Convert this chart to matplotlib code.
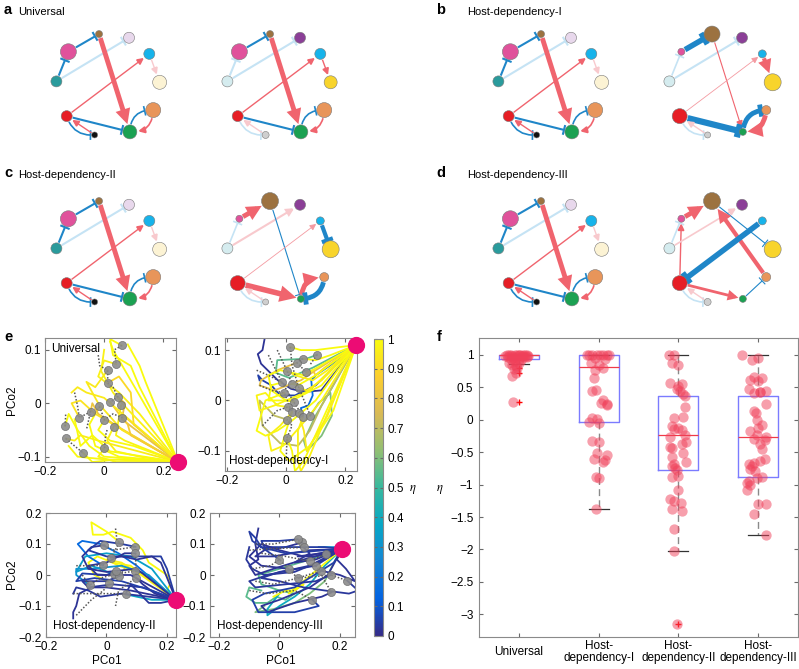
import numpy as np
import matplotlib
matplotlib.use("Agg")
import matplotlib.pyplot as plt
from matplotlib.patches import Circle, FancyArrowPatch
from matplotlib.colors import LinearSegmentedColormap
from matplotlib.transforms import blended_transform_factory
import matplotlib.cm as cm

plt.rcParams['font.family'] = ['Liberation Sans', 'DejaVu Sans']
plt.rcParams['mathtext.fontset'] = 'stix'
plt.rcParams['axes.edgecolor'] = '#8a8a8a'
plt.rcParams['xtick.color'] = '#6a6a6a'
plt.rcParams['ytick.color'] = '#6a6a6a'
plt.rcParams['xtick.labelcolor'] = 'black'
plt.rcParams['ytick.labelcolor'] = 'black'

W, H = 799, 669
fig = plt.figure(figsize=(W / 100, H / 100), dpi=100)

def ax_px(l, t, w, h):
    return fig.add_axes([l / W, 1 - (t + h) / H, w / W, h / H])

def ftext(x, y, s, **kw):
    fig.text(x / W, 1 - y / H, s, **kw)

# ---------------------------------------------------------------- networks
# node order: brown, purple, cyan, yellow, orange, green, black, red, teal, pink
node_full = ['#9c7240', '#8b3f97', '#17b3ea', '#f8d42c', '#e8955a',
             '#1ba152', '#111111', '#e61e25', '#2a9b9c', '#e0529b']
node_faded = ['#dccbb5', '#e8d8ec', '#bfe8f8', '#fcf3d4', '#f6dcc8',
              '#c2e6d0', '#cfcfcf', '#f7c0c2', '#d5ecef', '#f4cde0']
node_angle = [100, 66, 37, 3, -29, -65, -105, -143, 176, 140]

# reference (left) network, same in a-d
ref_sizes = [3.5, 5.5, 5.5, 7, 7.5, 7, 3, 5.5, 5.5, 8]
ref_faded = [0, 1, 0, 1, 0, 0, 0, 0, 0, 0]
# (src, dst, kind, width, fade level, curvature)
ref_edges = [(9, 0, 'i', 1.5, 0, 0), (8, 9, 'i', 1.5, 0, 0), (8, 1, 'i', 1.5, 1, 0),
             (0, 5, 'a', 3.5, 0, 0), (7, 2, 'a', 1.0, 0, 0), (2, 3, 'a', 1.0, 1, 0),
             (7, 5, 'i', 1.5, 0, 0), (5, 4, 'i', 1.2, 0, -0.5), (4, 5, 'a', 1.2, 0, -0.5),
             (7, 6, 'i', 1.2, 0, 0.4), (6, 7, 'a', 1.0, 0, 0)]

a_sizes = [3.5, 5.5, 5.5, 6.5, 7.5, 7, 3.5, 5.5, 5.5, 8]
a_faded = [0, 0, 0, 0, 0, 0, 1, 0, 1, 0]
a_edges = [(9, 0, 'i', 1.5, 0, 0), (8, 9, 'i', 1.5, 1, 0), (8, 1, 'i', 1.5, 1, 0),
           (0, 5, 'a', 3.5, 0, 0), (7, 2, 'a', 1.0, 0, 0), (2, 3, 'a', 1.0, 0, 0),
           (7, 5, 'i', 1.5, 0, 0), (5, 4, 'i', 1.2, 0, -0.5), (4, 5, 'a', 1.2, 0, -0.5),
           (7, 6, 'i', 1.2, 1, 0.4), (6, 7, 'a', 1.0, 1, 0)]

b_sizes = [8, 5.5, 4, 8.5, 4.5, 3.5, 3, 7.5, 5.5, 3.5]
b_faded = [0, 0, 0, 0, 0, 0, 1, 0, 1, 0]
b_edges = [(9, 0, 'i', 4.0, 0, 0), (8, 9, 'i', 1.2, 1, 0), (8, 1, 'i', 1.5, 1, 0),
           (0, 5, 'a', 0.8, 0, 0), (7, 2, 'a', 0.6, 2, 0), (2, 3, 'a', 3.0, 0, 0),
           (7, 5, 'i', 4.5, 0, 0), (5, 4, 'i', 3.5, 0, -0.45), (4, 5, 'a', 3.5, 0, -0.45),
           (7, 6, 'i', 1.2, 1, 0.4), (6, 7, 'a', 1.0, 1, 0)]

c_sizes = [8.5, 5.5, 4, 8.5, 4.5, 3.5, 3, 7.5, 5.5, 3.5]
c_faded = [0, 0, 0, 0, 0, 0, 1, 0, 1, 0]
c_edges = [(9, 0, 'a', 3.5, 0, 0), (8, 9, 'i', 1.2, 1, 0), (8, 1, 'a', 1.5, 1, 0),
           (0, 5, 'i', 0.8, 0, 0), (7, 2, 'a', 0.6, 2, 0), (2, 3, 'i', 3.0, 0, 0),
           (7, 5, 'a', 4.0, 0, 0), (5, 4, 'a', 3.5, 0, -0.45), (4, 5, 'i', 3.5, 0, -0.45),
           (7, 6, 'i', 1.2, 1, 0.4), (6, 7, 'a', 1.0, 1, 0)]

d_sizes = [8.5, 5.5, 4, 8.5, 4.5, 3.5, 3.5, 7.5, 5.5, 3.5]
d_faded = [0, 0, 0, 0, 0, 0, 1, 0, 1, 0]
d_edges = [(9, 0, 'a', 3.5, 0, 0), (8, 9, 'i', 1.2, 1, 0), (7, 9, 'a', 1.0, 0, 0),
           (8, 1, 'a', 1.2, 1, 0), (0, 3, 'i', 0.8, 0, 0), (4, 0, 'a', 3.0, 0, 0),
           (2, 7, 'i', 4.0, 0, 0), (7, 5, 'a', 2.0, 0, 0), (5, 4, 'i', 0.8, 0, 0),
           (7, 6, 'i', 1.2, 1, 0.4), (6, 7, 'a', 1.0, 1, 0)]

BLUE, RED = '#1f86c8', '#f0646e'
LBLUE, LPINK, MRED = '#c5e3f4', '#f8c9cd', '#f49aa1'
PX_PER_UNIT = 150 / 2.9

def draw_network(cx, cy, sizes, faded, edges):
    ax = ax_px(cx - 75, cy - 75, 150, 150)
    ax.set_xlim(-1.45, 1.45)
    ax.set_ylim(-1.45, 1.45)
    ax.set_aspect('equal')
    ax.axis('off')
    pos = [(np.cos(np.radians(a)), np.sin(np.radians(a))) for a in node_angle]
    for s, d, kind, w, fl, rad in edges:
        if kind == 'a':
            col = [RED, LPINK, MRED][fl]
            style = "-|>,head_length=0.5,head_width=0.25"
            ms = 7 + 1.0 * w
        else:
            col = [BLUE, LBLUE, LBLUE][fl]
            style = "|-|,widthA=0,widthB=0.5"
            ms = 6 + 0.8 * w
        p = FancyArrowPatch(pos[s], pos[d], arrowstyle=style,
                            connectionstyle=f"arc3,rad={rad}",
                            shrinkA=sizes[s] / 1.389 + 0.5,
                            shrinkB=sizes[d] / 1.389 + 0.8,
                            mutation_scale=ms, lw=w, color=col,
                            capstyle='butt', joinstyle='miter', zorder=2)
        ax.add_patch(p)
    for i, (x, y) in enumerate(pos):
        col = node_faded[i] if faded[i] else node_full[i]
        ax.add_patch(Circle((x, y), sizes[i] / PX_PER_UNIT, facecolor=col,
                            edgecolor='#7a7a7a', lw=0.4, zorder=3))

for cx, cy in [(108, 85), (550, 85), (108, 252), (550, 252)]:
    draw_network(cx, cy, ref_sizes, ref_faded, ref_edges)
draw_network(279, 85, a_sizes, a_faded, a_edges)
draw_network(721, 85, b_sizes, b_faded, b_edges)
draw_network(279, 252, c_sizes, c_faded, c_edges)
draw_network(721, 252, d_sizes, d_faded, d_edges)

for lab, x, y in [('a', 4, 10), ('b', 436, 10), ('c', 4, 173), ('d', 436, 173),
                  ('e', 4, 337), ('f', 437, 337)]:
    ftext(x, y, lab, fontsize=10.5, fontweight='bold', va='center', ha='left')
for t, x, y in [('Universal', 18, 12), ('Host-dependency-I', 467, 12),
                ('Host-dependency-II', 18, 175), ('Host-dependency-III', 467, 175)]:
    ftext(x, y, t, fontsize=8, va='center', ha='left')

# ---------------------------------------------------------------- panel e
parula = LinearSegmentedColormap.from_list('parula', [
    (0.0, '#352a87'), (0.125, '#0363e1'), (0.25, '#1485d4'), (0.375, '#06a7c6'),
    (0.5, '#38b99e'), (0.625, '#92bf73'), (0.75, '#d9ba56'), (0.875, '#fcce2e'),
    (1.0, '#f9fb0e')])

# Universal
univ_end = (0.25, -0.11)
univ_start_x = [0.06, 0.041, 0.012, 0.012, 0.021, 0.046, 0.057, -0.016, -0.046, -0.084,
                0.001, 0.062, 0.032, -0.132, -0.13, -0.071, 0.001]
univ_start_y = [0.108, 0.073, 0.062, 0.038, 0.002, 0.012, -0.004, -0.006, -0.016, -0.027,
                -0.031, -0.027, -0.044, -0.043, -0.066, -0.093, -0.084]
univ_eta = [1.0, 0.97, 0.95, 0.9, 0.85, 0.8, 0.98, 1.0, 0.82, 0.93, 1.0, 0.85, 0.97,
            1.0, 0.96, 1.0, 0.98, 1.0, 0.95, 1.0, 1.0, 0.97, 0.99]
univ_paths = [
    [(0.06, 0.108), (0.02, 0.12), (0.03, 0.09), (0.09, 0.07), (0.12, 0.03)],
    [(0.041, 0.073), (0.0, 0.08), (-0.02, 0.05), (0.05, 0.02), (0.12, -0.02)],
    [(0.012, 0.062), (-0.03, 0.03), (-0.06, 0.04), (-0.02, 0.0), (0.06, -0.05)],
    [(0.012, 0.038), (0.05, 0.05), (0.09, 0.02), (0.1, -0.04)],
    [(0.021, 0.002), (0.05, -0.02), (0.08, -0.03)],
    [(0.046, 0.012), (0.07, 0.0), (0.06, -0.03)],
    [(0.057, -0.004), (0.04, -0.06), (0.07, -0.07)],
    [(-0.016, -0.006), (-0.05, -0.04), (-0.03, -0.08), (0.05, -0.1)],
    [(-0.046, -0.016), (-0.04, 0.0), (-0.02, -0.02), (0.05, -0.045)],
    [(-0.084, -0.027), (-0.11, 0.0), (-0.08, 0.005), (-0.03, -0.02)],
    [(0.001, -0.031), (-0.02, -0.05), (0.02, -0.07), (0.1, -0.08)],
    [(0.062, -0.027), (0.08, -0.04), (0.09, -0.06)],
    [(0.032, -0.044), (0.01, -0.07), (0.04, -0.09), (0.12, -0.1)],
    [(-0.132, -0.043), (-0.12, -0.02), (-0.09, -0.05), (-0.05, -0.08), (0.0, -0.1)],
    [(-0.13, -0.066), (-0.1, -0.07), (-0.08, -0.06), (-0.02, -0.07)],
    [(-0.071, -0.093), (-0.04, -0.11), (0.05, -0.105)],
    [(0.001, -0.084), (-0.02, -0.1), (0.04, -0.11)],
    [(0.02, 0.115), (0.03, 0.1)],
    [(-0.11, 0.02), (-0.09, 0.03), (-0.06, 0.02), (0.0, 0.01)],
    [(0.08, 0.11), (0.12, 0.07), (0.14, 0.04)],
    [(-0.1, -0.03), (-0.08, -0.08), (-0.04, -0.06), (0.02, -0.09)],
    [(0.0, 0.1), (-0.01, 0.06), (0.03, 0.02), (0.06, 0.0)],
    [(-0.12, -0.08), (-0.09, -0.1), (0.0, -0.105)],
]
univ_dotted = [
    [(-0.02, 0.09), (-0.015, 0.07), (0.012, 0.062), (0.012, 0.038)],
    [(0.06, 0.108), (0.035, 0.1), (0.041, 0.073)],
    [(-0.1, 0.02), (-0.09, -0.005), (-0.084, -0.027), (-0.046, -0.016), (-0.06, -0.05)],
    [(-0.132, -0.043), (-0.13, -0.02)],
    [(-0.13, -0.066), (-0.1, -0.08), (-0.071, -0.093)],
    [(0.001, -0.084), (0.005, -0.06), (0.01, -0.05)],
    [(-0.016, -0.006), (0.001, -0.031), (0.03, -0.02), (0.062, -0.027)],
    [(0.012, 0.038), (0.03, 0.03), (0.046, 0.012), (0.021, 0.002)],
]

# Host-dependency-I
hd1_end = (0.237, 0.11)
hd1_start_x = [0.014, 0.057, 0.105, 0.037, 0.003, 0.068, -0.014, 0.019, 0.043, -0.006,
               0.026, 0.006, 0.02, 0.042, 0.057, 0.082, 0.003, 0.003]
hd1_start_y = [0.106, 0.083, 0.091, 0.075, 0.059, 0.056, 0.036, 0.033, 0.025, 0.015,
               -0.003, -0.013, -0.023, -0.025, -0.032, -0.03, -0.038, -0.074]
hd1_eta = [0.02, 0.05, 0.15, 0.55, 0.6, 0.7, 0.8, 0.85, 1.0, 0.97, 1.0, 0.95, 1.0, 0.98,
           1.0, 0.96, 1.0, 1.0, 1.0, 0.97, 0.97, 1.0]
hd1_paths = [
    [(-0.073, 0.122), (-0.08, 0.1), (-0.096, 0.092), (-0.085, 0.073), (-0.028, 0.04),
     (0.017, 0.023), (0.062, 0.017), (0.119, 0.02)],
    [(-0.09, 0.04), (-0.095, 0.05), (-0.08, 0.04), (-0.05, 0.03), (-0.02, 0.01),
     (0.03, 0.01), (0.1, 0.03)],
    [(0.057, -0.032), (0.05, -0.015), (0.075, -0.01), (0.09, 0.01), (0.085, 0.04),
     (0.1, 0.05), (0.15, 0.07)],
    [(0.105, 0.091), (0.07, 0.083), (-0.03, 0.08), (-0.035, 0.055), (0.01, 0.045),
     (0.09, 0.065)],
    [(0.082, -0.03), (0.11, -0.005), (0.15, 0.015), (0.155, -0.03), (0.12, -0.07),
     (0.07, -0.1), (0.06, -0.08), (0.1, -0.03), (0.15, 0.02)],
    [(0.003, -0.038), (-0.04, -0.03), (-0.09, 0.0), (-0.08, -0.05), (-0.02, -0.085),
     (0.04, -0.09), (0.08, -0.06), (0.12, -0.01)],
    [(0.037, 0.075), (-0.03, 0.06), (-0.085, 0.04), (-0.09, 0.03), (-0.04, 0.02),
     (0.05, 0.04), (0.1, 0.06)],
    [(0.068, 0.056), (0.09, 0.06), (0.1, 0.05), (0.13, 0.065)],
    [(-0.006, 0.015), (-0.07, 0.0), (-0.09, -0.04), (-0.1, -0.06), (-0.07, -0.07),
     (-0.03, -0.06), (0.02, -0.04), (0.1, 0.0)],
    [(0.02, -0.023), (-0.02, -0.05), (-0.06, -0.07), (-0.05, -0.1), (-0.01, -0.09),
     (0.05, -0.05), (0.12, 0.0)],
    [(0.003, -0.074), (0.02, -0.1), (0.03, -0.14), (0.06, -0.12)],
    [(0.042, -0.025), (0.06, -0.06), (0.07, -0.1), (0.09, -0.08), (0.14, -0.03)],
    [(0.026, -0.003), (0.0, 0.0), (-0.05, 0.02), (-0.06, 0.05), (-0.02, 0.06), (0.06, 0.05)],
    [(0.006, -0.013), (-0.03, -0.01), (-0.07, 0.015), (-0.1, 0.01), (-0.09, -0.02),
     (-0.04, -0.01), (0.08, 0.02)],
    [(0.019, 0.033), (0.04, 0.03), (0.1, 0.05)],
    [(0.043, 0.025), (0.07, 0.02), (0.12, 0.04)],
    [(-0.014, 0.036), (-0.05, 0.03), (-0.06, 0.0), (0.02, 0.0), (0.12, 0.03)],
    [(0.057, 0.083), (0.1, 0.08), (0.15, 0.09)],
    [(0.014, 0.106), (0.05, 0.1), (0.1, 0.1)],
    [(0.003, 0.059), (0.03, 0.05), (0.09, 0.04), (0.14, 0.06)],
    [(0.057, -0.032), (0.04, -0.06), (0.04, -0.12), (0.05, -0.14), (0.08, -0.11)],
    [(0.02, -0.023), (0.0, -0.06), (-0.02, -0.1), (0.01, -0.12), (0.08, -0.09), (0.16, -0.02)],
]
hd1_dotted = [
    [(-0.06, 0.09), (-0.014, 0.036), (0.026, -0.003), (0.057, -0.032)],
    [(-0.03, 0.1), (0.003, 0.059), (0.019, 0.033)],
    [(0.014, 0.106), (0.02, 0.07), (0.043, 0.025), (0.082, -0.03)],
    [(-0.09, 0.03), (-0.05, 0.02), (-0.006, 0.015), (0.02, -0.023)],
    [(-0.08, -0.05), (-0.03, -0.02), (0.006, -0.013), (0.042, -0.025)],
    [(0.003, -0.074), (0.02, -0.05), (0.003, -0.038)],
    [(0.0, -0.12), (0.003, -0.074)],
    [(0.057, 0.083), (0.037, 0.075), (0.068, 0.056)],
    [(0.105, 0.091), (0.08, 0.07)],
    [(-0.1, 0.06), (-0.06, 0.05), (-0.014, 0.036)],
]

# Host-dependency-II
hd2_end = (0.23, -0.08)
hd2_start_x = [0.043, 0.096, -0.007, 0.015, 0.096, -0.012, 0.026, 0.043, 0.093, 0.098,
               -0.056, 0.01, 0.063, 0.032]
hd2_start_y = [0.106, 0.091, 0.096, 0.056, 0.07, 0.031, 0.002, -0.003, 0.013, -0.009,
               -0.033, -0.025, -0.062, 0.013]
hd2_eta = [1.0, 1.0, 0.97, 0.15, 0.35, 0.38, 0.3, 0.02, 0.03, 0.02, 0.04, 0.02, 0.03,
           0.02, 0.05, 0.02, 0.03]
hd2_paths = [
    [(0.043, 0.106), (0.0, 0.14), (-0.05, 0.17), (-0.045, 0.13), (-0.01, 0.13), (0.02, 0.14),
     (0.08, 0.12), (0.12, 0.08), (0.14, 0.04), (0.17, 0.02), (0.2, 0.0), (0.21, -0.03),
     (0.2, -0.05)],
    [(0.01, -0.025), (-0.04, 0.0), (-0.06, 0.04), (-0.03, 0.06), (0.02, 0.04), (0.08, 0.03),
     (0.12, 0.0)],
    [(0.093, 0.013), (0.05, 0.04), (0.0, 0.05), (0.04, 0.03), (0.1, 0.01)],
    [(-0.012, 0.031), (-0.06, 0.06), (-0.095, 0.1), (-0.08, 0.11), (-0.02, 0.1),
     (0.04, 0.07), (0.1, 0.03)],
    [(0.026, 0.002), (-0.05, 0.03), (-0.1, 0.01), (-0.07, 0.06), (0.0, 0.07), (0.08, 0.06),
     (0.15, 0.02)],
    [(0.063, -0.062), (0.1, -0.07), (0.15, -0.08), (0.2, -0.08)],
    [(-0.056, -0.033), (-0.1, 0.0), (-0.1, 0.02), (-0.05, 0.02), (0.05, 0.03), (0.14, 0.0)],
    [(-0.11, -0.14), (-0.11, -0.12), (-0.1, -0.1), (-0.09, -0.06), (-0.05, -0.04),
     (0.0, -0.04), (0.08, -0.05)],
    [(-0.11, -0.06), (-0.1, -0.04), (-0.06, -0.05), (-0.02, -0.07), (0.05, -0.06)],
    [(-0.007, 0.096), (-0.05, 0.09), (-0.08, 0.06), (-0.06, 0.02), (0.0, 0.01), (0.1, 0.02)],
    [(0.096, 0.091), (0.05, 0.1), (-0.02, 0.11), (-0.06, 0.08), (0.0, 0.06), (0.1, 0.06),
     (0.18, 0.06), (0.2, 0.02)],
    [(0.015, 0.056), (0.05, 0.06), (0.1, 0.05), (0.15, 0.06), (0.18, 0.04)],
    [(0.043, -0.003), (0.0, -0.02), (-0.08, -0.02), (-0.06, -0.04), (0.02, -0.03),
     (0.12, -0.04)],
    [(0.098, -0.009), (0.12, -0.03), (0.16, -0.06)],
    [(0.032, 0.013), (0.0, 0.0), (-0.08, 0.005), (-0.1, -0.02), (-0.04, -0.01),
     (0.05, -0.02), (0.15, -0.05)],
    [(0.096, 0.07), (0.06, 0.07), (0.0, 0.04), (-0.06, 0.03), (-0.03, 0.0), (0.08, 0.0)],
    [(0.063, -0.062), (0.08, -0.03), (0.1, -0.05), (0.14, -0.09), (0.18, -0.09)],
]
hd2_dotted = [
    [(0.03, 0.15), (0.035, 0.11), (0.043, 0.106)],
    [(-0.1, -0.13), (-0.05, -0.08), (-0.01, -0.05), (0.01, -0.025)],
    [(-0.11, -0.06), (-0.07, -0.06), (-0.03, -0.06), (0.02, -0.06), (0.063, -0.062)],
    [(-0.1, 0.03), (-0.05, 0.03), (-0.012, 0.031), (0.015, 0.056), (0.043, 0.106)],
    [(-0.08, 0.0), (-0.056, -0.033), (-0.02, -0.01), (0.026, 0.002), (0.093, 0.013)],
    [(-0.007, 0.096), (0.02, 0.08), (0.096, 0.091)],
    [(0.096, 0.07), (0.098, -0.009), (0.04, -0.05), (0.03, -0.1)],
    [(0.032, 0.013), (0.043, -0.003), (0.06, 0.02)],
]

# Host-dependency-III
hd3_end = (0.207, 0.084)
hd3_start_x = [0.075, 0.08, 0.06, 0.155, 0.138, 0.17, 0.224, 0.172, 0.109, 0.03, 0.06,
               0.1, 0.0, 0.12]
hd3_start_y = [0.105, 0.089, 0.115, 0.069, 0.014, 0.0, -0.018, -0.056, -0.08, 0.02,
               -0.01, 0.045, 0.05, 0.03]
hd3_eta = [0.55, 0.6, 0.4, 0.3, 1.0, 0.02, 0.03, 0.02, 0.04, 0.02, 0.03, 0.02, 0.05,
           0.02, 0.03, 0.02, 0.02, 0.04]
hd3_paths = [
    [(-0.06, -0.05), (-0.1, -0.04), (-0.11, -0.07), (-0.08, -0.09), (-0.04, -0.09),
     (-0.01, -0.07), (0.02, -0.08), (0.05, -0.06), (0.0, -0.05), (-0.06, -0.03),
     (-0.07, 0.0), (0.0, 0.02), (0.1, 0.05)],
    [(-0.05, -0.1), (-0.08, -0.12), (-0.02, -0.11), (0.05, -0.09), (0.1, -0.06),
     (0.15, -0.02), (0.18, 0.04)],
    [(0.0, -0.06), (-0.04, -0.11), (-0.04, -0.13), (0.0, -0.1), (0.05, -0.07), (0.1, -0.03),
     (0.15, 0.03)],
    [(0.13, 0.09), (0.16, 0.09), (0.19, 0.09)],
    [(-0.02, -0.07), (0.02, -0.05), (0.05, -0.05), (0.08, -0.03), (0.03, -0.06)],
    [(-0.07, 0.15), (-0.08, 0.1), (-0.07, 0.05), (-0.1, 0.03), (-0.08, 0.0), (-0.02, 0.02),
     (0.08, 0.05)],
    [(-0.1, 0.09), (-0.11, 0.05), (-0.09, 0.02), (-0.05, 0.0), (0.05, 0.01), (0.15, 0.05)],
    [(0.075, 0.105), (0.02, 0.09), (-0.05, 0.08), (-0.08, 0.06), (-0.02, 0.06), (0.1, 0.08)],
    [(0.06, 0.115), (0.0, 0.11), (-0.06, 0.11), (-0.05, 0.09), (0.05, 0.09), (0.15, 0.09)],
    [(0.08, 0.089), (0.1, 0.07), (0.05, 0.04), (0.12, 0.05)],
    [(0.224, -0.018), (0.26, -0.05), (0.23, -0.06), (0.15, -0.05), (0.08, -0.04),
     (0.0, -0.02), (-0.06, -0.01), (0.0, 0.01), (0.12, 0.03)],
    [(0.172, -0.056), (0.14, -0.07), (0.05, -0.09), (-0.04, -0.12), (-0.06, -0.1),
     (0.0, -0.08), (0.1, -0.04), (0.16, 0.0)],
    [(0.109, -0.08), (0.13, -0.1), (0.05, -0.12), (-0.07, -0.12), (-0.09, -0.08),
     (-0.05, -0.06), (0.05, -0.04), (0.18, 0.04)],
    [(0.138, 0.014), (0.2, 0.0), (0.25, -0.02), (0.22, 0.02), (0.19, 0.05)],
    [(0.17, 0.0), (0.12, -0.02), (0.02, -0.03), (-0.08, -0.04), (-0.1, -0.02),
     (-0.04, 0.0), (0.1, 0.03)],
    [(0.03, 0.02), (-0.06, 0.03), (-0.1, 0.06), (-0.06, 0.1), (0.0, 0.08), (0.08, 0.06)],
    [(0.155, 0.069), (0.12, 0.06), (0.06, 0.06), (0.14, 0.07)],
    [(0.0, 0.05), (-0.09, 0.11), (-0.1, 0.14), (-0.08, 0.12), (-0.06, 0.09), (0.02, 0.07)],
]
hd3_dotted = [
    [(-0.08, 0.1), (-0.02, 0.1), (0.06, 0.115), (0.075, 0.105)],
    [(-0.1, 0.08), (-0.03, 0.085), (0.08, 0.089)],
    [(-0.06, 0.07), (0.02, 0.06), (0.1, 0.045), (0.155, 0.069)],
    [(-0.09, 0.02), (-0.03, 0.03), (0.0, 0.05), (0.03, 0.02), (0.06, -0.01), (0.138, 0.014)],
    [(-0.08, -0.02), (-0.02, -0.03), (0.06, -0.01), (0.17, 0.0), (0.224, -0.018)],
    [(-0.1, -0.05), (-0.04, -0.06), (0.05, -0.05), (0.109, -0.08)],
    [(0.12, 0.03), (0.172, -0.056)],
]

def draw_traj(ax, paths, etas, end, sx, sy, dotted):
    for pth, e in zip(paths, etas):
        xs = [p[0] for p in pth] + [end[0]]
        ys = [p[1] for p in pth] + [end[1]]
        ax.plot(xs, ys, color=parula(e), lw=1.3, zorder=2, solid_joinstyle='round')
    for dl in dotted:
        ax.plot([p[0] for p in dl], [p[1] for p in dl], ls=(0, (1, 1.2)), color='#555555',
                lw=1.1, zorder=3)
    ax.scatter(sx, sy, s=34, color='#8c8c8c', edgecolor='#6a6a6a', lw=0.5, alpha=0.9,
               zorder=4)
    ax.scatter([end[0]], [end[1]], s=130, color='#ec0c74', zorder=6, clip_on=False)

def style_e(ax, xlim, ylim, yt):
    ax.set_xlim(*xlim)
    ax.set_ylim(*ylim)
    ax.set_xticks([-0.2, 0, 0.2])
    ax.set_xticklabels(['\u22120.2', '0', '0.2'])
    ax.set_yticks(yt)
    ax.set_yticklabels([('\u2212' + f'{abs(v):g}') if v < 0 else f'{v:g}' for v in yt])
    ax.tick_params(direction='in', length=3, top=True, right=True, labelsize=8.5, pad=3)
    for sp in ax.spines.values():
        sp.set_linewidth(0.8)

ax1 = ax_px(45, 338, 131, 124)
draw_traj(ax1, univ_paths, univ_eta, univ_end, univ_start_x, univ_start_y, univ_dotted)
style_e(ax1, (-0.197, 0.243), (-0.11, 0.122), [-0.1, 0, 0.1])
ax1.text(0.05, 0.96, 'Universal', transform=ax1.transAxes, fontsize=8.5, va='top')

ax2 = ax_px(225, 338, 132, 133)
draw_traj(ax2, hd1_paths, hd1_eta, hd1_end, hd1_start_x, hd1_start_y, hd1_dotted)
style_e(ax2, (-0.207, 0.24), (-0.14, 0.124), [-0.1, 0, 0.1])
ax2.text(0.03, 0.03, 'Host-dependency-I', transform=ax2.transAxes, fontsize=8.5,
         va='bottom', zorder=10)

ax3 = ax_px(46, 513, 130, 124)
draw_traj(ax3, hd2_paths, hd2_eta, hd2_end, hd2_start_x, hd2_start_y, hd2_dotted)
style_e(ax3, (-0.2, 0.23), (-0.2, 0.2), [-0.2, -0.1, 0, 0.1, 0.2])
ax3.text(0.05, 0.04, 'Host-dependency-II', transform=ax3.transAxes, fontsize=8.5,
         va='bottom', zorder=10)

ax4 = ax_px(210, 513, 145, 124)
draw_traj(ax4, hd3_paths, hd3_eta, hd3_end, hd3_start_x, hd3_start_y, hd3_dotted)
style_e(ax4, (-0.23, 0.25), (-0.2, 0.2), [-0.2, -0.1, 0, 0.1, 0.2])
ax4.text(0.05, 0.04, 'Host-dependency-III', transform=ax4.transAxes, fontsize=8.5,
         va='bottom', zorder=10)

ftext(12, 400, 'PCo2', fontsize=8.5, rotation=90, ha='center', va='center')
ftext(12, 574, 'PCo2', fontsize=8.5, rotation=90, ha='center', va='center')
ftext(107, 661, 'PCo1', fontsize=8.5, ha='center', va='center')
ftext(281, 661, 'PCo1', fontsize=8.5, ha='center', va='center')

# colorbar
cax = ax_px(374, 339, 9, 297)
sm = cm.ScalarMappable(cmap=parula, norm=plt.Normalize(0, 1))
cb = fig.colorbar(sm, cax=cax)
cb_ticks = [0, 0.1, 0.2, 0.3, 0.4, 0.5, 0.6, 0.7, 0.8, 0.9, 1]
cb.set_ticks(cb_ticks)
cb.set_ticklabels([f'{v:g}' for v in cb_ticks])
cax.tick_params(direction='in', length=2.5, labelsize=8.5, left=True, right=True, pad=3)
cb.outline.set_edgecolor('#8a8a8a')
cb.outline.set_linewidth(0.8)
ftext(413, 490, r'$\eta$', fontsize=9, ha='center', va='center')

# ---------------------------------------------------------------- panel f
univ_vals = [1.00, 1.00, 1.00, 1.00, 1.00, 1.00, 1.00, 1.00, 1.00, 1.00, 0.99, 0.99, 0.98,
             0.98, 0.97, 0.97, 0.96, 0.96, 0.95, 0.94, 0.93, 0.92, 0.90, 0.88, 0.87, 0.85,
             0.83, 0.80, 0.78, 0.72, 0.68, 0.27]
univ_dx = [-0.15, -0.10, -0.05, 0.0, 0.05, 0.10, -0.12, 0.02, 0.08, -0.02, -0.08, 0.12,
           -0.18, 0.04, -0.04, 0.10, -0.14, 0.06, -0.07, 0.0, -0.10, 0.03, -0.05, -0.12,
           0.0, -0.08, -0.03, -0.02, -0.06, -0.04, -0.08, -0.07]
hd1_vals = [1.0, 1.0, 1.0, 1.0, 1.0, 1.0, 1.0, 1.0, 0.95, 0.93, 0.88, 0.84, 0.80, 0.77,
            0.64, 0.46, 0.44, 0.30, 0.26, 0.24, 0.23, 0.03, 0.01, -0.03, -0.05, -0.33,
            -0.35, -0.52, -0.55, -0.60, -0.62, -0.65, -0.89, -0.90, -1.38]
hd1_dx = [-0.15, -0.08, -0.02, 0.05, 0.10, -0.12, 0.02, 0.13, -0.05, 0.08, -0.10, 0.0,
          0.06, -0.04, -0.06, -0.03, -0.08, 0.05, 0.03, 0.10, 0.10, -0.08, -0.02, -0.12,
          0.0, -0.08, 0.0, -0.02, 0.10, -0.06, 0.08, 0.05, -0.03, 0.01, -0.03]
hd2_vals = [1.0, 1.0, 0.88, 0.85, 0.57, 0.55, 0.52, 0.48, 0.44, 0.40, 0.36, 0.20, 0.04,
            0.02, -0.10, -0.12, -0.14, -0.16, -0.23, -0.26, -0.35, -0.37, -0.42, -0.44,
            -0.52, -0.57, -0.65, -0.69, -0.72, -0.75, -0.77, -0.86, -0.89, -1.08, -1.22,
            -1.25, -1.28, -1.38, -1.40, -1.68, -2.02, -3.15]
hd2_dx = [-0.12, -0.05, -0.08, 0.0, -0.1, 0.05, 0.0, -0.02, 0.02, 0.06, 0.08, 0.08, 0.06,
          -0.05, -0.08, 0.0, -0.05, 0.05, 0.08, -0.1, 0.1, 0.05, -0.1, -0.08, 0.06, -0.08,
          0.1, -0.06, -0.08, -0.04, -0.02, 0.0, -0.08, 0.0, -0.1, -0.06, 0.03, -0.08,
          0.04, -0.06, -0.05, -0.02]
hd3_vals = [1.0, 0.95, 0.92, 0.66, 0.64, 0.62, 0.60, 0.47, 0.45, 0.42, 0.43, 0.41, 0.24,
            0.13, 0.11, 0.0, -0.08, -0.13, -0.18, -0.23, -0.26, -0.29, -0.32, -0.37, -0.45,
            -0.60, -0.63, -0.66, -0.69, -0.72, -0.76, -0.79, -0.89, -0.90, -0.95, -0.97,
            -1.0, -1.08, -1.30, -1.30, -1.45, -1.78]
hd3_dx = [-0.2, 0.0, -0.08, -0.05, 0.05, -0.1, 0.0, -0.12, 0.1, 0.02, 0.02, -0.05, 0.1,
          -0.05, -0.03, -0.02, 0.05, 0.0, -0.1, -0.02, 0.1, -0.05, 0.08, 0.02, 0.05, 0.08,
          0.02, -0.05, -0.12, -0.08, -0.1, -0.04, 0.05, -0.02, -0.12, -0.14, -0.1, -0.14,
          0.1, 0.0, -0.05, 0.1]

box_q1 = [0.93, -0.04, -0.77, -0.88]
box_med = [1.0, 0.82, -0.24, -0.26]
box_q3 = [1.0, 1.0, 0.37, 0.36]
box_lo = [0.86, -1.38, -2.02, -1.78]
box_hi = [1.0, 1.0, 1.0, 1.0]
box_fliers = [[0.80, 0.72, 0.27], [], [-3.15], []]
f_labels = ['Universal', 'Host-\ndependency-I', 'Host-\ndependency-II',
            'Host-\ndependency-III']

axf = ax_px(479, 338, 319, 299)
stats = [dict(q1=a, med=m, q3=b, whislo=lo, whishi=hi, fliers=fl)
         for a, m, b, lo, hi, fl in zip(box_q1, box_med, box_q3, box_lo, box_hi, box_fliers)]
axf.bxp(stats, positions=[1, 2, 3, 4], widths=0.5, capwidths=0.25,
        boxprops=dict(color='#7b7bff', lw=1.0),
        medianprops=dict(color='#f03a48', lw=0.9),
        whiskerprops=dict(color='#8a8a8a', lw=1.0, ls=(0, (5, 3))),
        capprops=dict(color='#333333', lw=0.9),
        flierprops=dict(marker='+', markeredgecolor='#ff0000', markersize=5,
                        markeredgewidth=1.0))
for i, (vals, dx) in enumerate([(univ_vals, univ_dx), (hd1_vals, hd1_dx),
                                 (hd2_vals, hd2_dx), (hd3_vals, hd3_dx)]):
    axf.scatter([i + 1 + d for d in dx], vals, s=55, color='#f0405a', alpha=0.5, lw=0,
                zorder=5)
axf.set_xlim(0.5, 4.5)
axf.set_ylim(-3.35, 1.26)
f_yt = [-3, -2.5, -2, -1.5, -1, -0.5, 0, 0.5, 1]
axf.set_yticks(f_yt)
axf.set_yticklabels([('\u2212' + f'{abs(v):g}') if v < 0 else f'{v:g}' for v in f_yt])
axf.set_xticks([1, 2, 3, 4])
axf.set_xticklabels([])
axf.tick_params(direction='in', length=3, top=True, right=True, labelsize=8.5, pad=4)
tr = blended_transform_factory(axf.transData, axf.transAxes)
for i, lab in enumerate(f_labels):
    axf.text(i + 1, -0.05, lab, transform=tr, ha='center', va='center', fontsize=8.5,
             linespacing=1.0, clip_on=False)
for sp in axf.spines.values():
    sp.set_linewidth(0.8)
ftext(440, 490, r'$\eta$', fontsize=9, ha='center', va='center')

fig.savefig('out.png', dpi=100)
